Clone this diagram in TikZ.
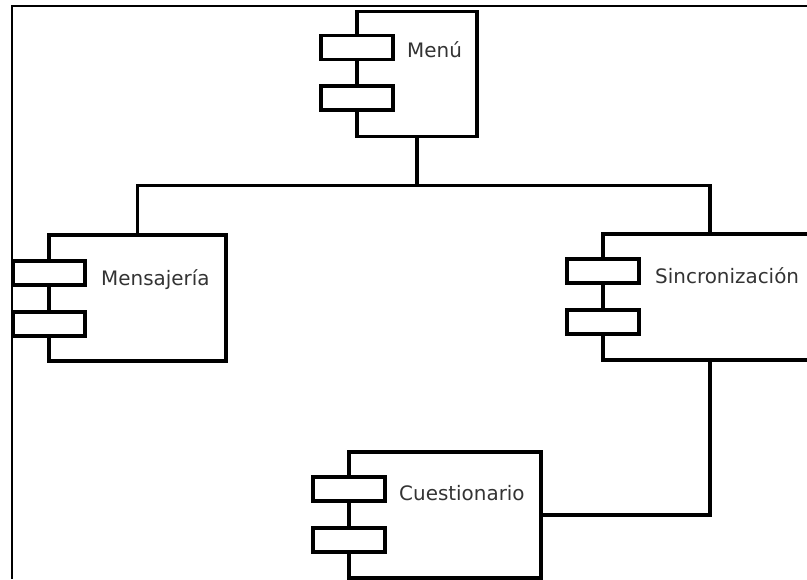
\documentclass[tikz,border=0pt]{standalone}
\usepackage{fontspec}
\setmainfont{DejaVu Sans}
\begin{document}
\begin{tikzpicture}[x=0.03cm, y=-0.03cm,
    comp/.style={draw, line width=3.2pt, minimum height=3.78cm, inner sep=0pt, outer sep=0pt, anchor=north west},
    port/.style={draw, fill=white, line width=3.2pt, minimum width=2.16cm, minimum height=0.72cm, inner sep=0pt, outer sep=0pt},
    compname/.style={anchor=base west, inner sep=0pt, text=black!80, font=\fontsize{17pt}{20pt}\selectfont},
    wire/.style={line width=3.2pt, line join=miter}]

    \useasboundingbox (0,0) rectangle (807,579);
    \clip (0,0) rectangle (807,579);

    \draw[line width=2pt] (807,6) -- (12,6) -- (12,579);

    \node[comp, minimum width=3.6cm, minimum height=3.75cm] (menu) at (357,11.5) {};
    \node[port] (menu-p1) at ([yshift=-1.08cm]menu.north west) {};
    \node[port] (menu-p2) at ([yshift=-2.6cm]menu.north west) {};
    \node[compname] (menu-t) at ([xshift=1.5cm,yshift=-1.38cm]menu.north west) {Menú};

    \node[comp, minimum width=5.31cm] (mens) at (49,235) {};
    \node[port] (mens-p1) at ([yshift=-1.15cm]mens.north west) {};
    \node[port] (mens-p2) at ([yshift=-2.68cm]mens.north west) {};
    \node[compname] (mens-t) at ([xshift=1.56cm,yshift=-1.5cm]mens.north west) {Mensajería};

    \node[comp, minimum width=6.42cm] (sync) at (603,234) {};
    \node[port] (sync-p1) at ([yshift=-1.12cm]sync.north west) {};
    \node[port] (sync-p2) at ([yshift=-2.65cm]sync.north west) {};
    \node[compname] (sync-t) at ([xshift=1.56cm,yshift=-1.47cm]sync.north west) {Sincronización};

    \node[comp, minimum width=5.76cm] (cuest) at (349,452) {};
    \node[port] (cuest-p1) at ([yshift=-1.12cm]cuest.north west) {};
    \node[port] (cuest-p2) at ([yshift=-2.64cm]cuest.north west) {};
    \node[compname] (cuest-t) at ([xshift=1.5cm,yshift=-1.44cm]cuest.north west) {Cuestionario};

    \draw[wire] (menu.south) -- ++(0,49) coordinate (bus) -| (mens.north);
    \draw[wire] (bus) -| (sync.north);
    \draw[wire] (sync.south) |- (cuest.east);

\end{tikzpicture}
\end{document}
